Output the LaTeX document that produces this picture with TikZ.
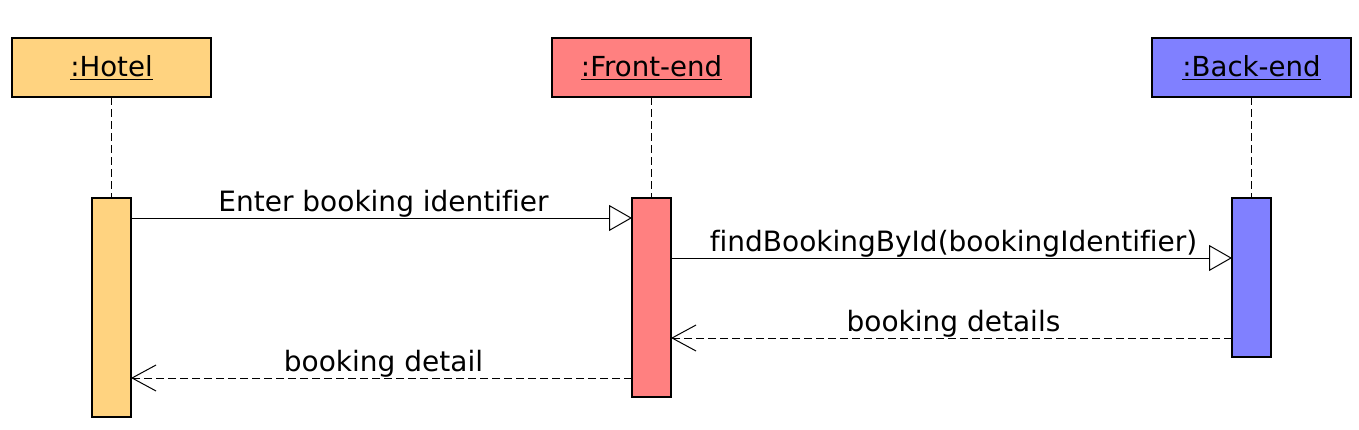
\documentclass[tikz,border=0pt]{standalone}
\usepackage{fontspec}
\setmainfont[Ligatures=NoCommon]{DejaVu Sans}
\usetikzlibrary{arrows.meta,calc}
\newcommand\ulbox[1]{\leavevmode\vtop{\hbox{#1}\kern1.9pt\hrule height 1.2pt}}
\definecolor{hotelc}{RGB}{255,211,128}
\definecolor{frontc}{RGB}{255,128,128}
\definecolor{backc}{RGB}{128,128,255}
\tikzset{
  obj/.style={draw=black, line width=1.1pt, minimum width=199pt, minimum height=59pt, inner sep=0pt, outer sep=0pt, anchor=north west},
  bar/.style={draw=black, line width=1.1pt, minimum width=39pt, inner sep=0pt, outer sep=0pt, anchor=north west},
  life/.style={line width=1pt, dash pattern=on 8pt off 4pt},
  call/.style={line width=1pt, -{Triangle[open, length=23pt, width=26pt]}},
  reply/.style={line width=1pt, dash pattern=on 8pt off 4pt, -{Straight Barb[length=24pt, width=26pt, line width=1pt]}},
  lbl/.style={anchor=base, yshift=7pt, xshift=2pt, inner sep=0pt, font=\fontsize{28}{33}\selectfont}
}
\begin{document}
\begin{tikzpicture}[x=1pt, y=-1pt, font=\fontsize{27.6}{33}\selectfont]
\useasboundingbox (0,0) rectangle (1359,429);
% objects
\node[obj, fill=hotelc] (hotel) at (12,38) {\ulbox{:Hotel}};
\node[obj, fill=frontc] (front) at (552,38) {\ulbox{:Front-end}};
\node[obj, fill=backc] (back) at (1152,38) {\ulbox{:Back-end}};
% activation bars
\node[bar, fill=hotelc, minimum height=219pt] (hb) at (92,198) {};
\node[bar, fill=frontc, minimum height=199pt] (fb) at (632,198) {};
\node[bar, fill=backc, minimum height=159pt] (bb) at (1232,198) {};
% lifelines
\draw[life] (hotel.south) -- (hb.north);
\draw[life] (front.south) -- (fb.north);
\draw[life] (back.south) -- (bb.north);
% messages
\draw[call] ([yshift=-20pt]hb.north east) -- ([yshift=-20pt]fb.north west)
  node[lbl, pos=0.5] {Enter booking identifier};
\draw[call] ([yshift=-60pt]fb.north east) -- ([yshift=-60pt]bb.north west)
  node[lbl, pos=0.5] {findBookingById(bookingIdentifier)};
\draw[reply] ([yshift=-140pt]bb.north west) -- ([yshift=-140pt]fb.north east)
  node[lbl, pos=0.5] {booking details};
\draw[reply] ([yshift=-180pt]fb.north west) -- ([yshift=-180pt]hb.north east)
  node[lbl, pos=0.5] {booking detail};
\end{tikzpicture}
\end{document}
